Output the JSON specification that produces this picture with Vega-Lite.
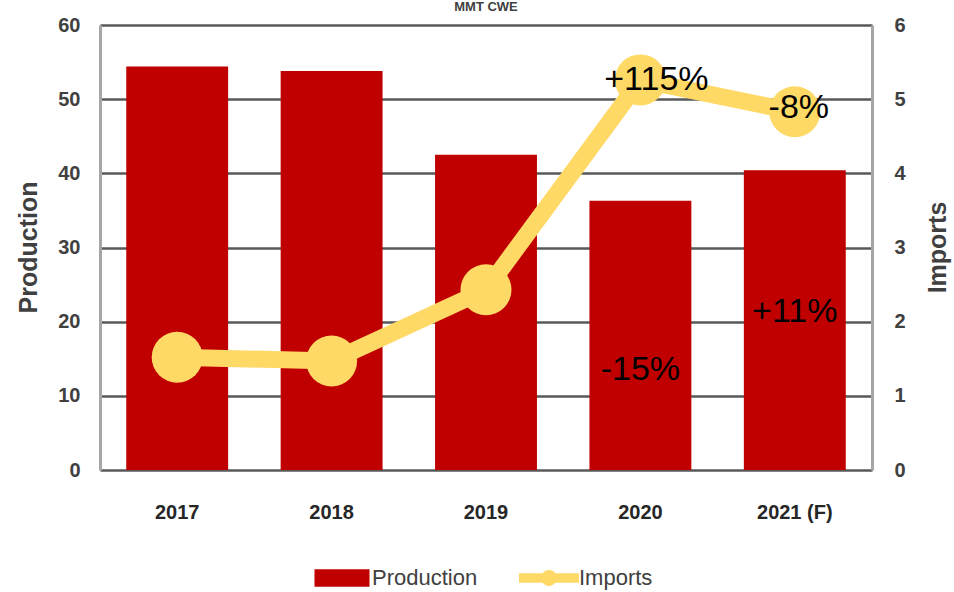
{
  "$schema": "https://vega.github.io/schema/vega-lite/v6.json",
  "width": 772,
  "height": 445,
  "autosize": {"type": "none"},
  "padding": {"left": 100, "top": 25, "right": 82, "bottom": 122},
  "background": "white",
  "title": {"text": "MMT CWE", "fontSize": 13, "font": "Liberation Sans", "fontWeight": "bold", "color": "#404040", "offset": 1, "anchor": "middle"},
  "config": {"view": {"stroke": null}},
  "data": {"values": [
    {"year": "2017", "production": 54.4, "imports": 1.52},
    {"year": "2018", "production": 53.8, "imports": 1.47},
    {"year": "2019", "production": 42.5, "imports": 2.43},
    {"year": "2020", "production": 36.3, "imports": 5.26, "prodLabel": "-15%", "impLabel": "+115%"},
    {"year": "2021 (F)", "production": 40.4, "imports": 4.83, "prodLabel": "+11%", "impLabel": "-8%"}
  ]},
  "encoding": {
    "x": {"field": "year", "type": "nominal", "sort": null,
      "scale": {"paddingInner": 0.34, "paddingOuter": 0.17},
      "axis": {"title": null, "labelAngle": 0, "labelFontSize": 20, "labelFont": "Liberation Sans", "labelFontWeight": "bold", "labelColor": "#262626", "labelPadding": 32, "ticks": false, "domain": false}}
  },
  "layer": [
    {
      "layer": [
        {
          "mark": {"type": "bar"},
          "encoding": {
            "y": {"field": "production", "type": "quantitative", "scale": {"domain": [0, 60]},
              "axis": {"title": "Production", "values": [0, 10, 20, 30, 40, 50, 60], "titleFontSize": 25, "titleFont": "Liberation Sans", "titleFontWeight": "bold", "titleColor": "#404040", "titleX": -72, "titleY": 222, "titleAngle": 270, "titleAlign": "center", "titleBaseline": "middle", "labelFontSize": 20, "labelFont": "Liberation Sans", "labelFontWeight": "bold", "labelColor": "#404040", "ticks": false, "labelPadding": 20, "domainColor": "#a6a6a6", "domainWidth": 3, "gridColor": "#595959", "gridWidth": 2.5}},
            "color": {"datum": "Production", "type": "nominal",
              "scale": {"domain": ["Production", "Imports"], "range": ["#C00000", "#FFD966"]},
              "legend": {"orient": "none", "legendX": 226, "legendY": 537, "direction": "horizontal", "title": null, "symbolSize": 1000, "labelFontSize": 22, "labelFont": "Liberation Sans", "labelColor": "#404040", "labelOffset": 14, "columnPadding": 40,
                "encode": {"symbols": {"update": {
                  "shape": {"signal": "datum.value === 'Production' ? 'M-1.74,-0.55H1.74V0.55H-1.74Z' : 'M-1.9,-0.3H1.9V0.3H-1.9Z M-0.5,0A0.5,0.5 0 1 1 0.5,0A0.5,0.5 0 1 1 -0.5,0Z'"},
                  "fill": {"signal": "datum.value === 'Production' ? '#C00000' : '#FFD966'"},
                  "stroke": {"value": "transparent"},
                  "strokeWidth": {"value": 0},
                  "opacity": {"value": 1}
                }}}}}
          }
        },
        {
          "transform": [{"filter": "datum.year === '2020'"}],
          "mark": {"type": "text", "font": "Liberation Sans", "fontSize": 34, "color": "black", "baseline": "middle", "dy": 169, "dx": 0},
          "encoding": {"y": {"field": "production", "type": "quantitative"}, "text": {"field": "prodLabel"}}
        },
        {
          "transform": [{"filter": "datum.year === '2021 (F)'"}],
          "mark": {"type": "text", "font": "Liberation Sans", "fontSize": 34, "color": "black", "baseline": "middle", "dy": 142, "dx": 0},
          "encoding": {"y": {"field": "production", "type": "quantitative"}, "text": {"field": "prodLabel"}}
        }
      ]
    },
    {
      "layer": [
        {
          "mark": {"type": "line", "strokeWidth": 17},
          "encoding": {
            "y": {"field": "imports", "type": "quantitative", "scale": {"domain": [0, 6]},
              "axis": {"orient": "right", "title": "Imports", "titleAngle": 270, "titleX": 65, "titleY": 222, "titleAlign": "center", "titleBaseline": "middle", "values": [0, 1, 2, 3, 4, 5, 6], "format": "d", "grid": false, "titleFontSize": 25, "titleFont": "Liberation Sans", "titleFontWeight": "bold", "titleColor": "#404040", "labelFontSize": 20, "labelFont": "Liberation Sans", "labelFontWeight": "bold", "labelColor": "#404040", "ticks": false, "labelPadding": 22, "domainColor": "#a6a6a6", "domainWidth": 3}},
            "color": {"datum": "Imports", "type": "nominal"}
          }
        },
        {
          "mark": {"type": "circle", "size": 2600, "opacity": 1},
          "encoding": {
            "y": {"field": "imports", "type": "quantitative"},
            "color": {"datum": "Imports", "type": "nominal"}
          }
        },
        {
          "transform": [{"filter": "datum.year === '2020'"}],
          "mark": {"type": "text", "font": "Liberation Sans", "fontSize": 34, "color": "black", "baseline": "middle", "dy": 0, "dx": 16},
          "encoding": {"y": {"field": "imports", "type": "quantitative"}, "text": {"field": "impLabel"}}
        },
        {
          "transform": [{"filter": "datum.year === '2021 (F)'"}],
          "mark": {"type": "text", "font": "Liberation Sans", "fontSize": 34, "color": "black", "baseline": "middle", "dy": -4, "dx": 4},
          "encoding": {"y": {"field": "imports", "type": "quantitative"}, "text": {"field": "impLabel"}}
        }
      ]
    }
  ],
  "resolve": {"scale": {"y": "independent"}}
}
